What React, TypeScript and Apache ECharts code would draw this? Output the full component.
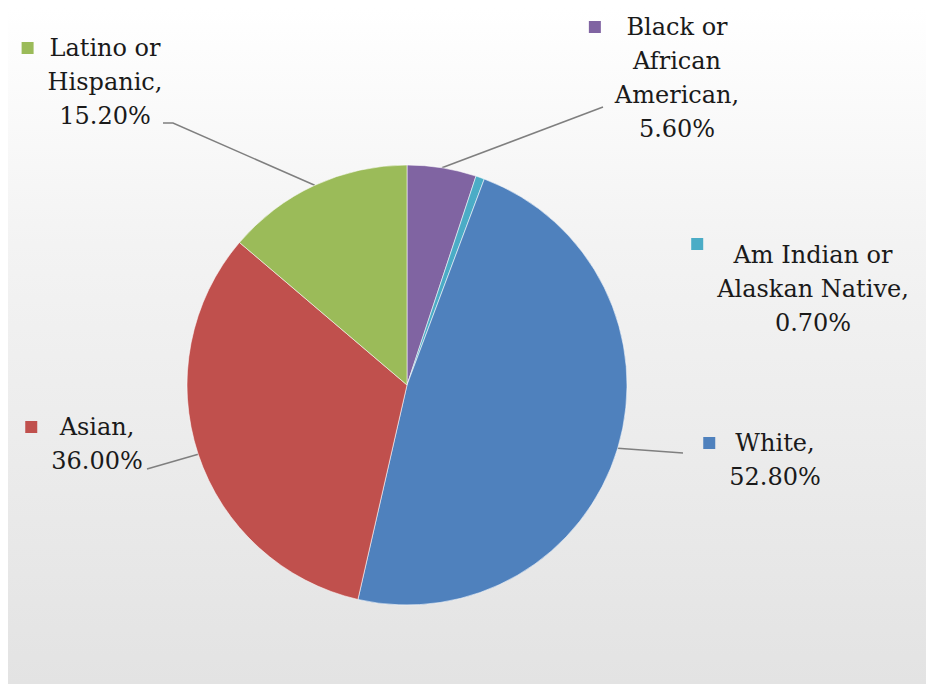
import React, { useEffect, useRef } from 'react';
import * as echarts from 'echarts';

// ---- data ----
const categories = [
  'Black or\nAfrican\nAmerican',
  'Am Indian or\nAlaskan Native',
  'White',
  'Asian',
  'Latino or\nHispanic',
];
const values = [5.6, 0.7, 52.8, 36.0, 15.2];
const colors = ['#8064A2', '#4BACC6', '#4F81BD', '#C0504D', '#9BBB59'];

// ---- label placement (page px): text center x, top y, leader end / elbow ----
const labelPlacement = [
  { cx: 677, top: 10, end: [603, 107] as number[] | null, elbow: null as number[] | null, markAlign: 'middle' },
  { cx: 813, top: 238, end: null, elbow: null, markAlign: 'top' },
  { cx: 775, top: 426, end: [683, 453], elbow: null, markAlign: 'middle' },
  { cx: 97, top: 410, end: [147, 469], elbow: null, markAlign: 'middle' },
  { cx: 105, top: 31, end: [163, 123], elbow: [173, 123], markAlign: 'middle' },
];

const FONT = "'DejaVu Serif', serif";
const FONT_SIZE = 24;
const LINE_H = 34;
const MARK = 12;
const MARK_GAP = 14;
const TEXT_COLOR = '#1a1a1a';

export default function App() {
  const ref = useRef<HTMLDivElement>(null);

  useEffect(() => {
    const el = ref.current;
    if (!el) return;
    const chart = echarts.init(el, null, { renderer: 'svg' });

    const ctx = document.createElement('canvas').getContext('2d');
    if (ctx) ctx.font = `${FONT_SIZE}px ${FONT}`;
    const measure = (s: string) => (ctx ? ctx.measureText(s).width : s.length * 13);

    const linesOf = (i: number) => {
      const l = (categories[i] + ',').split('\n');
      l.push(values[i].toFixed(2) + '%');
      return l;
    };

    const rich: Record<string, any> = {
      t: {
        fontFamily: FONT,
        fontSize: FONT_SIZE,
        lineHeight: LINE_H,
        color: TEXT_COLOR,
        align: 'center',
      },
    };
    categories.forEach((_, i) => {
      const ls = linesOf(i);
      const ws = ls.map(measure);
      const maxW = Math.max(...ws);
      const gap = (maxW - ws[0]) / 2 + MARK_GAP;
      rich['sq' + i] = {
        width: MARK,
        height: MARK,
        backgroundColor: colors[i],
        align: 'left',
        verticalAlign: labelPlacement[i].markAlign,
        fontSize: 4,
      };
      rich['g' + i] = { width: gap, align: 'left', fontSize: 4 };
      rich['p' + i] = { width: MARK + gap, align: 'right', fontSize: 4 };
    });

    const data = categories.map((name, i) => ({
      name,
      value: values[i],
      itemStyle: { color: colors[i] },
      labelLine: { show: labelPlacement[i].end != null },
    }));

    chart.setOption({
      animation: false,
      backgroundColor: '#ffffff',
      graphic: [
        {
          type: 'rect',
          silent: true,
          z: -10,
          shape: { x: 8, y: 8, width: 918, height: 676 },
          style: {
            fill: new echarts.graphic.LinearGradient(0, 0, 0, 1, [
              { offset: 0, color: '#ffffff' },
              { offset: 0.35, color: '#f3f3f3' },
              { offset: 1, color: '#e3e3e3' },
            ]),
          },
        },
      ],
      series: [
        {
          type: 'pie',
          center: [407, 385],
          radius: 220,
          startAngle: 90,
          clockwise: true,
          avoidLabelOverlap: false,
          emphasis: { disabled: true },
          itemStyle: {
            borderColor: 'rgba(255,255,255,0.55)',
            borderWidth: 1,
          },
          label: {
            show: true,
            position: 'outside',
            fontFamily: FONT,
            fontSize: FONT_SIZE,
            color: TEXT_COLOR,
            rich,
            formatter: (p: any) => {
              const i = p.dataIndex;
              return linesOf(i)
                .map((l, k) =>
                  k === 0
                    ? `{sq${i}| }{g${i}| }{t|${l}}{p${i}| }`
                    : `{t|${l}}`
                )
                .join('\n');
            },
          },
          labelLine: {
            show: true,
            smooth: false,
            lineStyle: { color: '#7f7f7f', width: 1.5 },
          },
          labelLayout: (params: any) => {
            const lp = labelPlacement[params.dataIndex];
            const out: any = {
              x: lp.cx,
              y: lp.top,
              align: 'center',
              verticalAlign: 'top',
            };
            const pts = params.labelLinePoints;
            if (pts && pts.length && lp.end) {
              const start = [pts[0][0], pts[0][1]];
              out.labelLinePoints = lp.elbow
                ? [start, lp.elbow, lp.end]
                : [start, lp.end, lp.end];
            }
            return out;
          },
          data,
        },
      ],
    });

    return () => {
      chart.dispose();
    };
  }, []);

  return (
    <div
      ref={ref}
      style={{ position: 'fixed', left: 0, top: 0, width: 926, height: 684 }}
    />
  );
}
